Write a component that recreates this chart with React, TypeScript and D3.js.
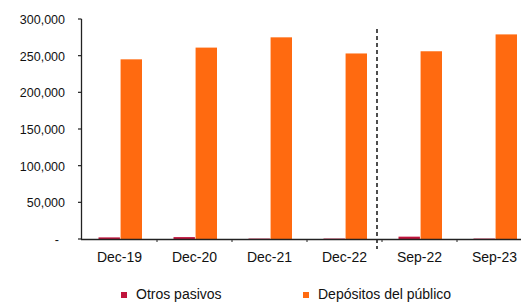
import React, { useEffect, useRef } from "react";
import * as d3 from "d3";

const categories = ["Dec-19", "Dec-20", "Dec-21", "Dec-22", "Sep-22", "Sep-23"];
const seriesNames = ["Otros pasivos", "Depósitos del público"];
const otrosPasivos = [2200, 2600, 600, 600, 3200, 600];
const depositos = [245000, 261000, 275000, 253000, 256000, 279000];
const yTicks = [0, 50000, 100000, 150000, 200000, 250000, 300000];
const colors = ["#c0143c", "#ff6a10"];

export default function App() {
  const svgRef = useRef<SVGSVGElement>(null);

  useEffect(() => {
    const svg = d3.select(svgRef.current);
    svg.selectAll("*").remove();
    const font = "'Liberation Sans', Arial, sans-serif";

    const x0 = d3.scaleBand<string>().domain(categories).range([82, 532]);
    const bw = x0.bandwidth();
    const x1 = d3
      .scaleBand<string>()
      .domain(seriesNames)
      .range([bw * 0.22, bw * 0.8])
      .paddingInner(0.03);
    const y = d3.scaleLinear().domain([0, 300000]).range([239, 19]);

    const data = categories.map((c, i) => ({
      cat: c,
      vals: [otrosPasivos[i], depositos[i]],
    }));

    // bars
    const g = svg.append("g");
    data.forEach((d) => {
      d.vals.forEach((v, j) => {
        g.append("rect")
          .attr("x", x0(d.cat)! + x1(seriesNames[j])!)
          .attr("y", y(v))
          .attr("width", x1.bandwidth())
          .attr("height", y(0) - y(v))
          .attr("fill", colors[j]);
      });
    });

    // y axis
    svg.append("line")
      .attr("x1", 81.5).attr("x2", 81.5)
      .attr("y1", y(300000)).attr("y2", y(0))
      .attr("stroke", "#222").attr("stroke-width", 1.3);
    yTicks.forEach((t) => {
      svg.append("line")
        .attr("x1", 78).attr("x2", 81.5)
        .attr("y1", y(t)).attr("y2", y(t))
        .attr("stroke", "#222").attr("stroke-width", 1.2);
      svg.append("text")
        .attr("x", t === 0 ? 59 : 65)
        .attr("y", y(t) + 5)
        .attr("text-anchor", "end")
        .attr("font-family", font)
        .attr("font-size", 12.5)
        .attr("fill", "#111")
        .text(t === 0 ? "-" : d3.format(",")(t));
    });

    // x axis
    svg.append("line")
      .attr("x1", 81).attr("x2", 521)
      .attr("y1", y(0) + 0.5).attr("y2", y(0) + 0.5)
      .attr("stroke", "#222").attr("stroke-width", 1.3);
    categories.slice(1).forEach((c) => {
      svg.append("line")
        .attr("x1", x0(c)!).attr("x2", x0(c)!)
        .attr("y1", y(0)).attr("y2", y(0) + 3)
        .attr("stroke", "#222");
    });
    categories.forEach((c) => {
      svg.append("text")
        .attr("x", x0(c)! + bw / 2)
        .attr("y", 261.5)
        .attr("text-anchor", "middle")
        .attr("font-family", font)
        .attr("font-size", 14)
        .attr("fill", "#111")
        .text(c);
    });

    // dashed separator
    const sepX = x0("Sep-22")! - 5;
    svg.append("line")
      .attr("x1", sepX).attr("x2", sepX)
      .attr("y1", 29).attr("y2", 249)
      .attr("stroke", "#222")
      .attr("stroke-width", 1.6)
      .attr("stroke-dasharray", "4,3");

    // legend
    const legendX = [121, 303];
    seriesNames.forEach((s, i) => {
      svg.append("rect")
        .attr("x", legendX[i]).attr("y", 292)
        .attr("width", 6).attr("height", 6)
        .attr("fill", colors[i]);
      svg.append("text")
        .attr("x", legendX[i] + 15)
        .attr("y", 299)
        .attr("font-family", font)
        .attr("font-size", 14)
        .attr("fill", "#111")
        .text(s);
    });
  }, []);

  return (
    <svg
      ref={svgRef}
      width={521}
      height={303}
      style={{ position: "fixed", left: 0, top: 0, background: "#fff" }}
    />
  );
}
